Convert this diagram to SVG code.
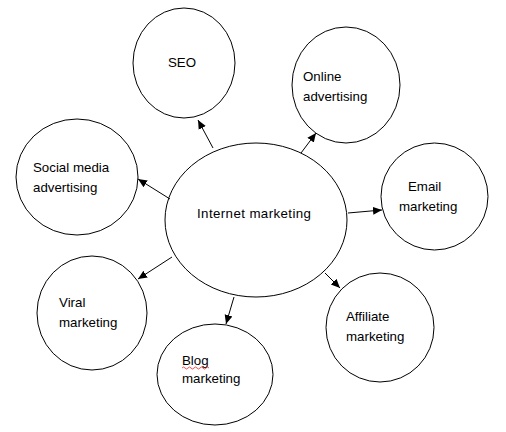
<svg xmlns="http://www.w3.org/2000/svg" width="506" height="432" viewBox="0 0 506 432">
<style>
.n{fill:#fff;stroke:#000;stroke-width:1}
.t{font-family:"Liberation Sans","Open Sans",sans-serif;font-size:13.3px;fill:#000}
.c{stroke:#000;stroke-width:1;fill:none}
</style>
<defs>
<marker id="ah" markerWidth="10" markerHeight="10" refX="9" refY="5" orient="auto" markerUnits="userSpaceOnUse">
<path d="M0,1 L9,5 L0,9 z" fill="#000"/>
</marker>
</defs>
<rect width="506" height="432" fill="#fff"/>
<g id="n-internet">
<ellipse class="n" cx="256" cy="220" rx="91" ry="77"/>
<text class="t" x="197" y="218" textLength="114" lengthAdjust="spacing">Internet marketing</text>
</g>
<g id="n-seo">
<ellipse class="n" cx="184" cy="63" rx="51" ry="55"/>
<text class="t" x="168" y="67">SEO</text>
</g>
<g id="n-online">
<ellipse class="n" cx="346" cy="85" rx="54" ry="58"/>
<text class="t" x="303" y="81">Online</text>
<text class="t" x="303" y="101">advertising</text>
</g>
<g id="n-social">
<ellipse class="n" cx="77" cy="177" rx="61" ry="58"/>
<text class="t" x="33" y="172">Social media</text>
<text class="t" x="33" y="192">advertising</text>
</g>
<g id="n-email">
<ellipse class="n" cx="434.5" cy="196.5" rx="53.5" ry="53.5"/>
<text class="t" x="408" y="191">Email</text>
<text class="t" x="399" y="211">marketing</text>
</g>
<g id="n-affiliate">
<ellipse class="n" cx="380" cy="327.5" rx="54" ry="54.5"/>
<text class="t" x="346" y="321">Affiliate</text>
<text class="t" x="346" y="341">marketing</text>
</g>
<g id="n-viral">
<ellipse class="n" cx="92" cy="313" rx="55" ry="57"/>
<text class="t" x="59" y="307">Viral</text>
<text class="t" x="59" y="327">marketing</text>
</g>
<g id="n-blog">
<ellipse class="n" cx="215" cy="374.5" rx="58" ry="50.5"/>
<text class="t" x="182" y="365">Blog</text>
<path d="M182,368 q1.5,-2 3,0 t3,0 t3,0 t3,0 t3,0 t3,0 t3,0 t3,0 t3,0" fill="none" stroke="#e00" stroke-width="0.7"/>
<text class="t" x="182" y="383">marketing</text>
</g>
<g id="connectors">
<line class="c" x1="213" y1="148" x2="198" y2="120" marker-end="url(#ah)"/>
<line class="c" x1="301" y1="153" x2="316" y2="133" marker-end="url(#ah)"/>
<line class="c" x1="170" y1="199" x2="138" y2="179" marker-end="url(#ah)"/>
<line class="c" x1="348" y1="213" x2="382" y2="210" marker-end="url(#ah)"/>
<line class="c" x1="325" y1="273" x2="340" y2="288" marker-end="url(#ah)"/>
<line class="c" x1="172" y1="257" x2="138" y2="279" marker-end="url(#ah)"/>
<line class="c" x1="234" y1="297" x2="226" y2="324" marker-end="url(#ah)"/>
</g>
</svg>
